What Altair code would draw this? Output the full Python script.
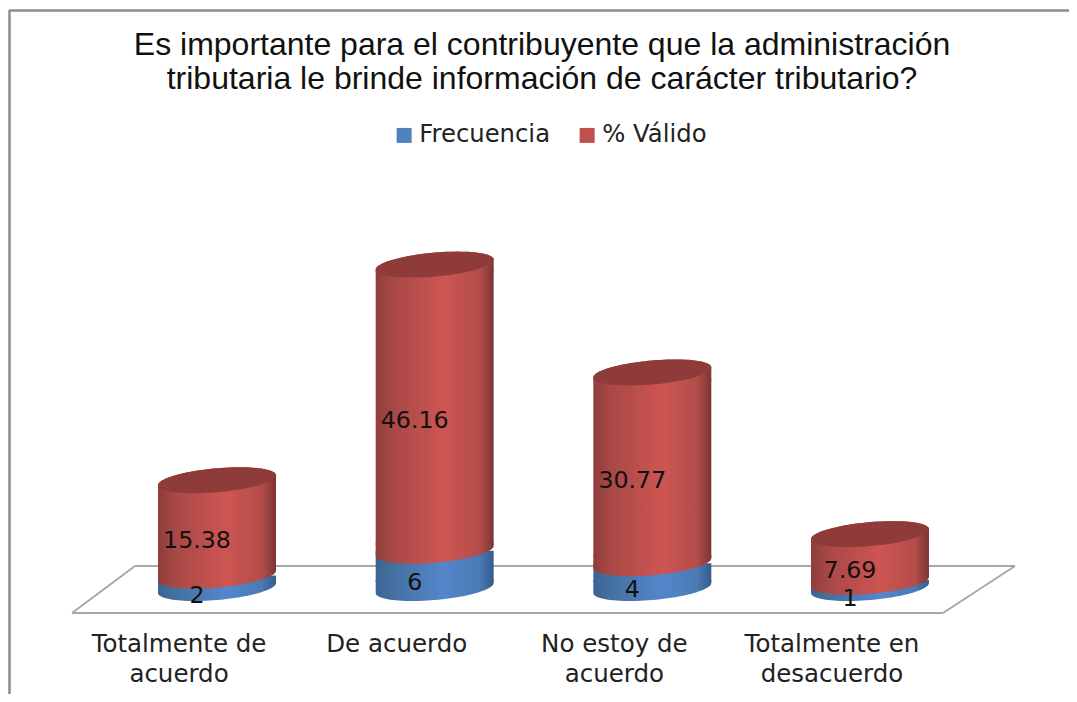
import math
import altair as alt
import pandas as pd

categories = ["Totalmente de|acuerdo", "De acuerdo", "No estoy de|acuerdo", "Totalmente en|desacuerdo"]
frecuencia = [2, 6, 4, 1]
valido = [15.38, 46.16, 30.77, 7.69]
series_names = ["Frecuencia", "% Válido"]
title_lines = ["Es importante para el contribuyente que la administración",
               "tributaria le brinde información de carácter tributario?"]

df = pd.DataFrame({"cat": categories, "frec": frecuencia, "val": valido})
df["total"] = df["frec"] + df["val"]
df["frec_mid"] = df["frec"] / 2
df["val_mid"] = df["frec"] + df["val"] / 2
legend_df = pd.DataFrame({"cat": categories[:2], "serie": series_names})
title_df = pd.DataFrame({"t": ["\n".join(title_lines)]})

W, H, PB = 1061, 580, 106
HALF = 59.0
K, B, EXT = 5.0, 12.0, 8.0


def arc(t0, t1, n=48):
    pts = []
    for i in range(n + 1):
        t = t0 + (t1 - t0) * i / n
        x = math.cos(t)
        y = (-K * math.cos(t) - B * math.sin(t)) / HALF
        pts.append((x, y))
    return pts


def path(pts):
    return "M" + " L".join(f"{x:.4f} {y:.4f}" for x, y in pts) + " Z"


e = EXT / HALF
ELLIPSE = path(arc(0, 2 * math.pi, 96))
BOTTOM_CAP = path(arc(math.pi, 2 * math.pi) + [(1, -e), (-1, -e)])
TOP_CAP = path(arc(math.pi, 0) + [(1, e), (-1, e)])
SYM = (2 * HALF) ** 2


def grad(edge_l, l, mid, r, edge_r):
    return alt.Gradient(
        gradient="linear", x1=0, y1=0, x2=1, y2=0,
        stops=[
            alt.GradientStop(offset=0, color=edge_l),
            alt.GradientStop(offset=0.14, color=l),
            alt.GradientStop(offset=0.58, color=mid),
            alt.GradientStop(offset=0.88, color=r),
            alt.GradientStop(offset=1, color=edge_r),
        ],
    )


RED = grad("#8f3d3b", "#a84846", "#cd5552", "#b44d4a", "#7c3533")
BLUE = grad("#3a6496", "#44709f", "#5487cb", "#4a79b4", "#345c8c")
DARK = "#8e3b39"

x_enc = alt.X(
    "cat:N",
    sort=categories,
    scale=alt.Scale(domain=categories, range=[100.2, 970.8], paddingInner=0.458, paddingOuter=0.229),
    axis=alt.Axis(
        title=None, domain=False, ticks=False, grid=False, labelAngle=0,
        labelExpr="split(datum.label, '|')",
        labelFont="DejaVu Sans", labelFontSize=24.5, labelColor="#222222",
        labelLineHeight=30, labelPadding=44, labelOffset=-38, labelLimit=300,
    ),
)
y_scale = alt.Scale(domain=[0, 580 / 6.2], range=[580, 0], nice=False, zero=False)
y_enc = lambda f: alt.Y(f, scale=y_scale, axis=None)


def cap(field, shape, fill):
    return alt.Chart(df).mark_point(
        shape=shape, size=SYM, filled=True, fill=fill, opacity=1, strokeWidth=0
    ).encode(x=x_enc, y=y_enc(field))


def rule(x, x2, y, y2, color, width):
    return alt.Chart(df.head(1)).mark_rule(color=color, strokeWidth=width, clip=False).encode(
        x=alt.value(x), x2=alt.value(x2), y=alt.value(y), y2=alt.value(y2)
    )


FRAME = "#8c8c8c"
FLOOR = "#a8a8a8"
frame = [
    rule(1.5, 1.5, 2, 686, FRAME, 2.5),
    rule(1.5, 1061, 2.5, 2.5, FRAME, 2.5),
]
floor = [
    rule(127, 1007, 558, 558, FLOOR, 2),
    rule(64, 127, 605, 558, FLOOR, 2),
    rule(935, 1007, 605, 558, FLOOR, 2),
    rule(64, 935, 605, 605, FLOOR, 2),
]

blue_side = alt.Chart(df).mark_bar(fill=BLUE, yOffset=-6, opacity=1).encode(
    x=x_enc, y=y_enc("zero:Q"), y2="frec:Q"
).transform_calculate(zero="0")
red_side = alt.Chart(df).mark_bar(fill=RED, yOffset=-6, y2Offset=6, opacity=1).encode(
    x=x_enc, y=y_enc("frec:Q"), y2="total:Q"
)

blue_labels = alt.Chart(df).mark_text(
    font="DejaVu Sans", fontSize=23.7, color="#111111", dx=-20, dy=14
).encode(x=x_enc, y=y_enc("frec_mid:Q"), text="frec:Q")
red_labels = alt.Chart(df).mark_text(
    font="DejaVu Sans", fontSize=23.7, color="#111111", dx=-20, dy=13
).encode(x=x_enc, y=y_enc("val_mid:Q"), text=alt.Text("val:Q", format=".2f"))

title_layer = alt.Chart(title_df).mark_text(
    font="Liberation Sans", fontSize=32, color="#111111", align="center",
    baseline="alphabetic", lineBreak="\n", lineHeight=34,
).encode(x=alt.value(534), y=alt.value(47), text="t:N")

legend_layer = alt.Chart(legend_df).mark_square(opacity=0, size=10).encode(
    x=x_enc,
    y=alt.value(-50),
    color=alt.Color(
        "serie:N",
        scale=alt.Scale(domain=series_names, range=["#4f81bd", "#c0504d"]),
        legend=alt.Legend(
            orient="none", legendX=384, legendY=115, direction="horizontal", title=None,
            symbolType="square", symbolSize=225, symbolOpacity=1, symbolStrokeWidth=0,
            labelFont="DejaVu Sans", labelFontSize=24.3, labelColor="#222222",
            labelOffset=3, columnPadding=24, labelLimit=300,
        ),
    ),
)

chart = alt.layer(
    *frame, *floor,
    cap("zero:Q", BOTTOM_CAP, BLUE).transform_calculate(zero="0"),
    blue_side,
    cap("frec:Q", BOTTOM_CAP, RED),
    red_side,
    cap("total:Q", TOP_CAP, RED),
    cap("total:Q", ELLIPSE, DARK),
    blue_labels, red_labels, title_layer, legend_layer,
).properties(
    width=W, height=H,
    padding={"left": 0, "top": 0, "right": 0, "bottom": PB},
    autosize=alt.AutoSizeParams(type="none"),
    background="white",
).configure_view(stroke=None)

chart.save("out.html", embed_options={"renderer": "svg", "actions": False})
